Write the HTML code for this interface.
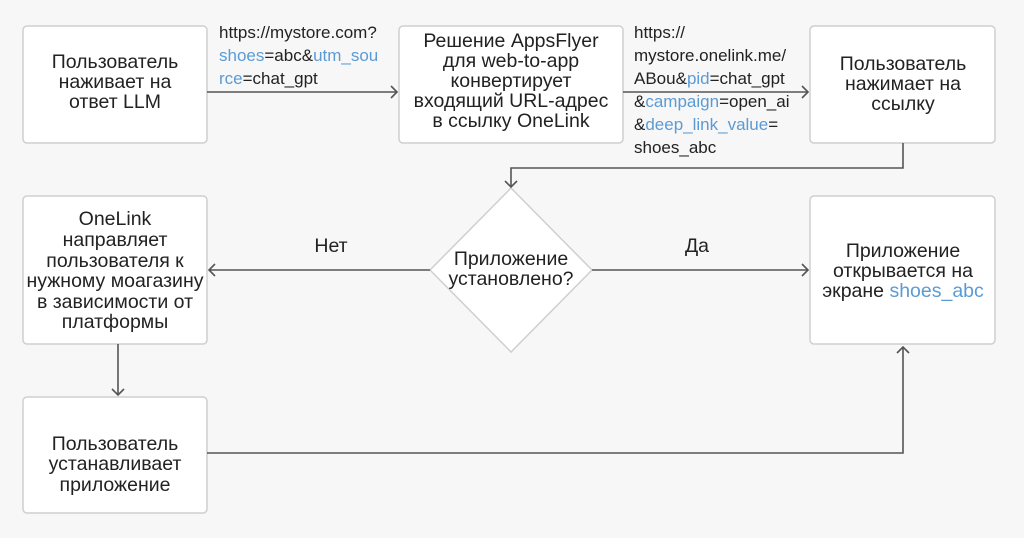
<!DOCTYPE html>
<html><head><meta charset="utf-8"><style>
html,body{margin:0;padding:0;background:#f7f7f7;}
svg{display:block;font-family:"Liberation Sans",sans-serif;}
.b{fill:#fff;stroke:#cfcfcf;stroke-width:1.5;}
.t{font-size:19.5px;fill:#222;text-anchor:middle;}
.u{font-size:17px;fill:#222;}
.bl{fill:#5b9bd5;}
.l{stroke:#555;stroke-width:1.6;fill:none;}
</style></head><body>
<svg width="1024" height="538" viewBox="0 0 1024 538">
<rect width="1024" height="538" fill="#f7f7f7"/>
<rect class="b" x="23" y="26" width="184" height="117" rx="4"/>
<rect class="b" x="399" y="26" width="224" height="117" rx="4"/>
<rect class="b" x="810" y="26" width="185" height="117" rx="4"/>
<rect class="b" x="23" y="196" width="184" height="148" rx="4"/>
<rect class="b" x="810" y="196" width="185" height="148" rx="4"/>
<rect class="b" x="23" y="397" width="184" height="116" rx="4"/>
<polygon class="b" points="511,188 592,270 511,352 430,270"/>

<path class="l" d="M207 92H397M391 86l6 6-6 6"/>
<path class="l" d="M623 92H808M802 86l6 6-6 6"/>
<path class="l" d="M903 143V168H511V187M505 181l6 6 6-6"/>
<path class="l" d="M430 270H209M215 264l-6 6 6 6"/>
<path class="l" d="M592 270H808M802 264l6 6-6 6"/>
<path class="l" d="M118 344V395M112 389l6 6 6-6"/>
<path class="l" d="M207 453H903V347M897 353l6-6 6 6"/>

<text class="t"><tspan x="115" y="68">Пользователь</tspan><tspan x="115" y="88">наживает на</tspan><tspan x="115" y="108">ответ LLM</tspan></text>
<text class="t"><tspan x="511" y="47">Решение AppsFlyer</tspan><tspan x="511" y="67">для web-to-app</tspan><tspan x="511" y="87">конвертирует</tspan><tspan x="511" y="107">входящий URL-адрес</tspan><tspan x="511" y="127">в ссылку OneLink</tspan></text>
<text class="t"><tspan x="903" y="70">Пользователь</tspan><tspan x="903" y="90">нажимает на</tspan><tspan x="903" y="110">ссылку</tspan></text>
<text class="t"><tspan x="115" y="225">OneLink</tspan><tspan x="115" y="246">направляет</tspan><tspan x="115" y="267">пользователя к</tspan><tspan x="115" y="287">нужному моагазину</tspan><tspan x="115" y="308">в зависимости от</tspan><tspan x="115" y="328">платформы</tspan></text>
<text class="t"><tspan x="511" y="265">Приложение</tspan><tspan x="511" y="285">установлено?</tspan></text>
<text class="t"><tspan x="903" y="257">Приложение</tspan><tspan x="903" y="277">открывается на</tspan><tspan x="903" y="297">экране <tspan class="bl">shoes_abc</tspan></tspan></text>
<text class="t"><tspan x="115" y="450">Пользователь</tspan><tspan x="115" y="470">устанавливает</tspan><tspan x="115" y="491">приложение</tspan></text>
<text class="t" x="331" y="252">Нет</text>
<text class="t" x="697" y="252">Да</text>

<text class="u"><tspan x="219" y="38">https://mystore.com?</tspan><tspan x="219" y="61"><tspan class="bl">shoes</tspan>=abc&amp;<tspan class="bl">utm_sou</tspan></tspan><tspan x="219" y="84"><tspan class="bl">rce</tspan>=chat_gpt</tspan></text>
<text class="u"><tspan x="634" y="38">https://</tspan><tspan x="634" y="61">mystore.onelink.me/</tspan><tspan x="634" y="84">ABou&amp;<tspan class="bl">pid</tspan>=chat_gpt</tspan><tspan x="634" y="107">&amp;<tspan class="bl">campaign</tspan>=open_ai</tspan><tspan x="634" y="130">&amp;<tspan class="bl">deep_link_value</tspan>=</tspan><tspan x="634" y="153">shoes_abc</tspan></text>
</svg>
</body></html>
